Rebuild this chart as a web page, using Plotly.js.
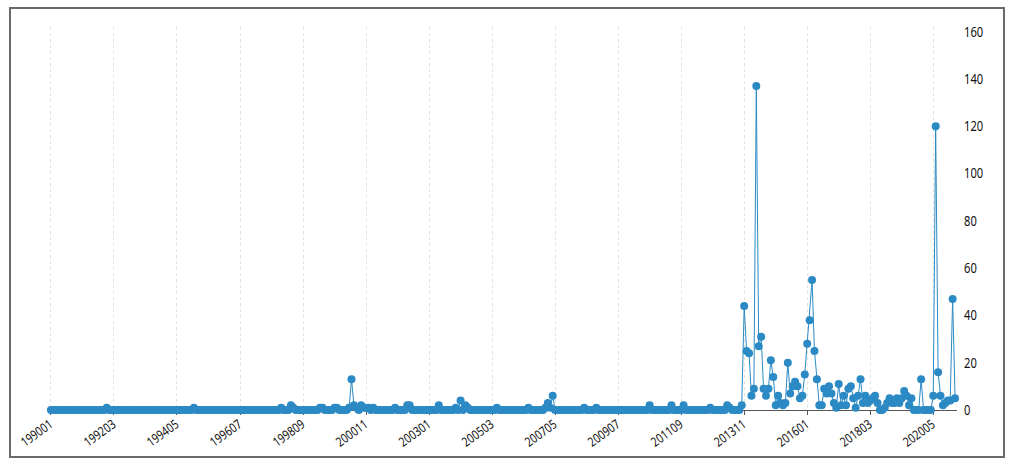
<!DOCTYPE html>
<html>
<head>
<meta charset="utf-8">
<script src="https://cdn.plot.ly/plotly-3.0.1.min.js"></script>
<style>
  html, body { margin: 0; padding: 0; background: #fff; }
  #frame { position: absolute; left: 9px; top: 7px; width: 996px; height: 451px; box-sizing: border-box; border: 2px solid #6a6a6a; pointer-events: none; z-index: 5; }
  #chart { position: absolute; left: 0; top: 0; width: 1015px; height: 469px; }
</style>
</head>
<body>
<div id="chart"></div>
<div id="frame"></div>
<script>
// Monthly values, one row per year (Jan..Dec), 1990-01 to 2021-02
const values1990s = [
  0,0,0,0,0,0,0,0,0,0,0,0,   // 1990
  0,0,0,0,0,0,0,0,0,0,0,1,   // 1991
  0,0,0,0,0,0,0,0,0,0,0,0,   // 1992
  0,0,0,0,0,0,0,0,0,0,0,0,   // 1993
  0,0,0,0,0,0,0,0,0,0,0,1,   // 1994
  0,0,0,0,0,0,0,0,0,0,0,0,   // 1995
  0,0,0,0,0,0,0,0,0,0,0,0,   // 1996
  0,0,0,0,0,0,0,0,0,0,0,1,   // 1997
  0,0,0,2,1,0,0,0,0,0,0,0,   // 1998
  0,0,0,1,1,0,0,0,0,1,1,0    // 1999
];
const values2000s = [
  0,0,0,1,13,2,1,0,2,1,1,1,  // 2000
  0,1,0,0,0,0,0,0,0,0,1,0,   // 2001
  0,0,0,2,2,0,0,0,0,0,0,0,   // 2002
  0,0,0,0,2,0,0,0,0,0,0,1,   // 2003
  0,4,0,2,1,0,0,0,0,0,0,0,   // 2004
  0,0,0,0,1,0,0,0,0,0,0,0,   // 2005
  0,0,0,0,0,1,0,0,0,0,0,0,   // 2006
  1,3,1,6,0,0,0,0,0,0,0,0,   // 2007
  0,0,0,0,1,0,0,0,0,1,0,0,   // 2008
  0,0,0,0,0,0,0,0,0,0,0,0    // 2009
];
const values2010s = [
  0,0,0,0,0,0,0,2,0,0,0,0,   // 2010
  0,0,0,0,2,0,0,0,0,2,0,0,   // 2011
  0,0,0,0,0,0,0,0,1,0,0,0,   // 2012
  0,0,0,2,1,0,0,0,0,2,44,25, // 2013
  24,6,9,137,27,31,9,6,9,21,14,2, // 2014
  6,3,2,3,20,7,10,12,10,5,6,15,   // 2015
  28,38,55,25,13,2,2,9,7,10,7,3,  // 2016
  1,11,2,6,2,9,10,5,1,6,13,3,     // 2017
  6,3,4,5,6,3,0,0,1,3,5,3,        // 2018
  3,5,3,5,8,6,2,5,0,0,0,13        // 2019
];
const values2020s = [
  0,0,0,0,6,120,16,6,2,3,4,4,     // 2020
  47,5                            // 2021
];
const tickLabels = ['199001','199203','199405','199607','199809','200011','200301',
  '200503','200705','200907','201109','201311','201601','201803','202005'];
const yTicks = [0,20,40,60,80,100,120,140,160];

const values = values1990s.concat(values2000s, values2010s, values2020s);
const categories = values.map((v, i) => {
  const y = 1990 + Math.floor(i / 12);
  const m = (i % 12) + 1;
  return String(y) + (m < 10 ? '0' + m : String(m));
});

const color = '#2b8ac4';
const fontFam = 'Noto Sans, Open Sans, sans-serif';

Plotly.newPlot('chart', [{
  x: categories,
  y: values,
  type: 'scatter',
  mode: 'lines+markers',
  line: { color: color, width: 1 },
  marker: { color: color, size: 8 },
  cliponaxis: false,
  hoverinfo: 'x+y'
}], {
  width: 1015,
  height: 469,
  margin: { l: 49, r: 58, t: 27, b: 59 },
  paper_bgcolor: 'rgba(0,0,0,0)',
  plot_bgcolor: '#fff',
  showlegend: false,
  xaxis: {
    type: 'category',
    range: [-0.8, 373.8],
    tickmode: 'array',
    tickvals: tickLabels,
    ticktext: tickLabels,
    tickangle: -36,
    tickfont: { family: fontFam, size: 13, color: '#111' },
    showgrid: true,
    gridcolor: '#e2e2e2',
    griddash: 'dot',
    gridwidth: 1,
    showline: true,
    linecolor: '#555',
    linewidth: 1,
    ticks: 'outside',
    ticklen: 4,
    tickcolor: '#555',
    zeroline: false,
    layer: 'below traces'
  },
  yaxis: {
    side: 'right',
    range: [0, 162],
    tickmode: 'array',
    tickvals: yTicks,
    ticktext: yTicks.map(String),
    tickfont: { family: fontFam, size: 14, color: '#111' },
    showgrid: false,
    showline: false,
    zeroline: false,
    ticks: '',
    ticklabelstandoff: 6
  }
}, { displayModeBar: false, staticPlot: true }).then(function (gd) {
  // narrow the tick-label glyphs horizontally (reference uses a narrow face)
  function narrow(sel, sx, pre) {
    gd.querySelectorAll(sel).forEach(function (t) {
      const x = parseFloat(t.getAttribute('x')) || 0;
      const y = parseFloat(t.getAttribute('y')) || 0;
      const tr = t.getAttribute('transform') || '';
      t.setAttribute('transform', pre + ' ' + tr + ' translate(' + x + ',' + y + ') scale(' + sx + ',1) translate(' + (-x) + ',' + (-y) + ')');
    });
  }
  narrow('.xtick text', 0.8, 'translate(-1,-3)');
  narrow('.ytick text', 0.8, '');
});
</script>
</body>
</html>
